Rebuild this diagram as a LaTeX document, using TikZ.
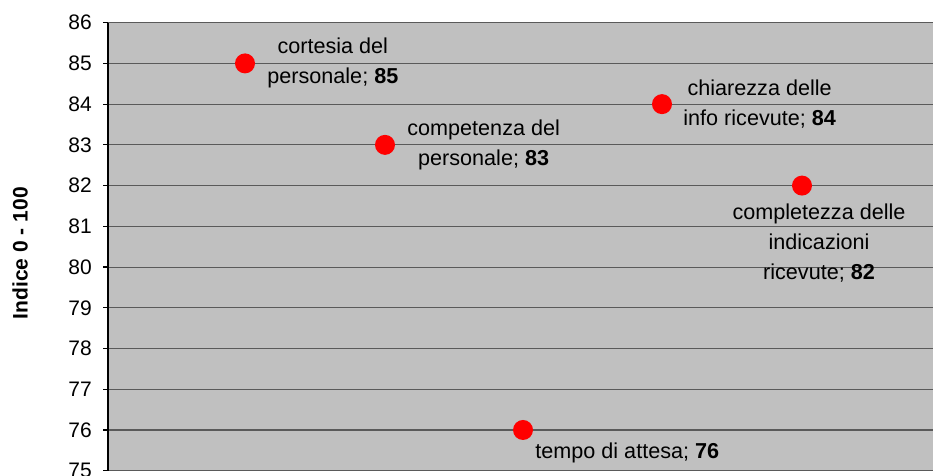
\documentclass[tikz,border=0pt]{standalone}
\usepackage{fontspec}
\setmainfont{Liberation Sans}
\usetikzlibrary{positioning}

\definecolor{plotgray}{RGB}{192,192,192}
\definecolor{gridgray}{RGB}{90,90,90}
\definecolor{dotred}{RGB}{255,0,0}

\begin{document}
\begin{tikzpicture}[x = 1pt, y = 40.73pt,
        dot/.style = {circle, fill = dotred, minimum size = 20pt, inner sep = 0pt},
        lbl/.style = {align = center, inner sep = 0pt, font = \fontsize{21.6}{30}\selectfont},
        ticklbl/.style = {anchor = east, inner sep = 0pt, font = \fontsize{21}{25}\selectfont},
        gridline/.style = {draw = gridgray, line width = 1.1pt}]
        \useasboundingbox (0pt,-4.3pt) rectangle (933pt,470.7pt);
        \clip (0pt,-4.3pt) rectangle (933pt,470.7pt);
    \begin{scope}[shift = {(0,-75)}]
        % plot area and grid
        \fill [plotgray] (108,75) rectangle (940,86);
        \foreach \v in {75,...,86} {
            \draw [gridline] (108,\v) -- (940,\v);
            \draw [black, line width = 1.2pt] (103,\v) -- (108,\v);
            \node [ticklbl] (t\v) at (92,\v) {\v};
        }
        \draw [black, line width = 1.4pt] (108,75) -- (108,86);
        \node [rotate = 90, font = \fontsize{21}{25}\selectfont\bfseries] (title) at (20,80.34) {Indice 0 - 100};

        % points
        \node [dot] (cortesia) at (245,85) {};
        \node [dot] (competenza) at (385,83) {};
        \node [dot] (chiarezza) at (662,84) {};
        \node [dot] (completezza) at (802,82) {};
        \node [dot] (attesa) at (523,76) {};

        % labels
        \node [lbl] (cortesia-l) [right = 12pt of cortesia] {cortesia del\\personale; \textbf{85}};
        \node [lbl] (competenza-l) [right = 12pt of competenza] {competenza del\\personale; \textbf{83}};
        \node [lbl] (chiarezza-l) [right = 11pt of chiarezza] {chiarezza delle\\info ricevute; \textbf{84}};
        \node [lbl] (completezza-l) [below = 8pt of completezza, xshift = 17pt] {completezza delle\\indicazioni\\ricevute; \textbf{82}};
        \node [lbl] (attesa-l) [below right = 5pt and 5pt of attesa] {tempo di attesa; \textbf{76}};
    \end{scope}
\end{tikzpicture}
\end{document}
